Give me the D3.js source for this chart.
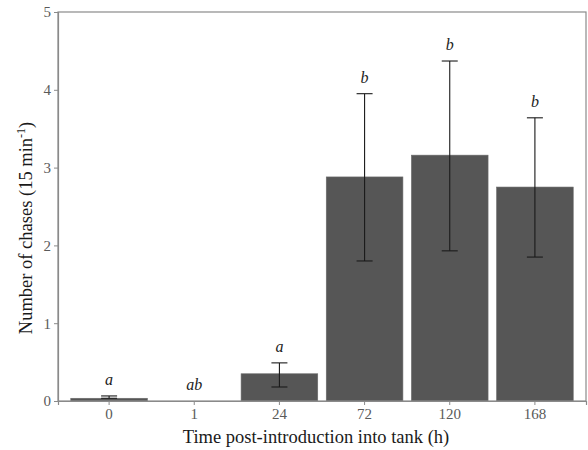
<!DOCTYPE html>
<html>
<head>
<meta charset="utf-8">
<script src="https://cdn.jsdelivr.net/npm/d3@7"></script>
<style>
  body { margin: 0; background: #fff; }
</style>
</head>
<body>
<script>
// data
var times = ["0", "1", "24", "72", "120", "168"];
var chases = [0.035, 0, 0.35, 2.88, 3.16, 2.75];
var errLow = [0.035, 0, 0.18, 1.80, 1.93, 1.85];
var errHigh = [0.065, 0, 0.49, 3.95, 4.37, 3.64];
var letters = ["a", "ab", "a", "b", "b", "b"];
var yTicks = [0, 1, 2, 3, 4, 5];

var W = 588, H = 450;
var pLeft = 58, pRight = 586, pTop = 12, pBottom = 401;
var serif = "'Liberation Serif', 'Times New Roman', Times, serif";

var svg = d3.select("body").append("svg")
    .attr("width", W)
    .attr("height", H)
    .attr("font-family", serif);

var x = d3.scaleBand()
    .domain(times)
    .range([pLeft, pRight])
    .paddingInner(0.1)
    .paddingOuter(0.15);

var y = d3.scaleLinear()
    .domain([0, 5])
    .range([pBottom, pTop]);

var rows = times.map(function(t, i) {
  return {t: t, v: chases[i], lo: errLow[i], hi: errHigh[i], lab: letters[i]};
});

// bars
svg.selectAll("rect.bar")
    .data(rows)
    .enter()
    .append("rect")
    .attr("class", "bar")
    .attr("x", function(d) { return x(d.t); })
    .attr("width", x.bandwidth())
    .attr("y", function(d) { return y(d.v); })
    .attr("height", function(d) { return y(0) - y(d.v); })
    .attr("fill", "#565656")
    .attr("stroke", "#6a6a6a")
    .attr("stroke-width", 0.6);

// error bars
var cap = 8;
var eb = svg.selectAll("g.err")
    .data(rows.filter(function(d) { return d.hi > 0; }))
    .enter()
    .append("g")
    .attr("class", "err")
    .attr("stroke", "#1a1a1a")
    .attr("stroke-width", 1.1);

function cx(d) { return x(d.t) + x.bandwidth() / 2; }

eb.append("line")
    .attr("x1", cx).attr("x2", cx)
    .attr("y1", function(d) { return y(d.lo); })
    .attr("y2", function(d) { return y(d.hi); });
eb.append("line")
    .attr("x1", function(d) { return cx(d) - cap; })
    .attr("x2", function(d) { return cx(d) + cap; })
    .attr("y1", function(d) { return y(d.hi); })
    .attr("y2", function(d) { return y(d.hi); });
eb.append("line")
    .attr("x1", function(d) { return cx(d) - cap; })
    .attr("x2", function(d) { return cx(d) + cap; })
    .attr("y1", function(d) { return y(d.lo); })
    .attr("y2", function(d) { return y(d.lo); });

// significance letters
svg.selectAll("text.lab")
    .data(rows)
    .enter()
    .append("text")
    .attr("class", "lab")
    .attr("x", cx)
    .attr("y", function(d) { return y(d.hi) - 11; })
    .attr("text-anchor", "middle")
    .attr("font-style", "italic")
    .attr("font-size", 16)
    .attr("fill", "#222")
    .text(function(d) { return d.lab; });

// panel border
svg.append("rect")
    .attr("x", pLeft)
    .attr("y", pTop)
    .attr("width", pRight - pLeft)
    .attr("height", pBottom - pTop)
    .attr("fill", "none")
    .attr("stroke", "#8a8a8a")
    .attr("stroke-width", 1.2);

// axes
var xAxis = svg.append("g")
    .attr("transform", "translate(0," + pBottom + ")")
    .call(d3.axisBottom(x).tickSize(4).tickPadding(3));
var yAxis = svg.append("g")
    .attr("transform", "translate(" + pLeft + ",0)")
    .call(d3.axisLeft(y).tickValues(yTicks).tickFormat(d3.format("d"))
      .tickSize(4).tickPadding(3));

[xAxis, yAxis].forEach(function(a) {
  a.attr("font-family", serif).attr("font-size", 15);
  a.select(".domain").attr("stroke", "#8a8a8a").attr("stroke-width", 1.2);
  a.selectAll(".tick line").attr("stroke", "#8a8a8a");
  a.selectAll(".tick text").attr("fill", "#5a5a5a");
});

// axis titles
svg.append("text")
    .attr("x", (pLeft + pRight) / 2 - 6)
    .attr("y", 443)
    .attr("text-anchor", "middle")
    .attr("font-size", 18.5)
    .attr("fill", "#1a1a1a")
    .text("Time post-introduction into tank (h)");

var yt = svg.append("text")
    .attr("transform", "translate(32,228) rotate(-90)")
    .attr("text-anchor", "middle")
    .attr("font-size", 18.5)
    .attr("fill", "#1a1a1a");
yt.append("tspan").text("Number of chases (15 min");
yt.append("tspan").attr("dy", -7).attr("font-size", 12).text("-1");
yt.append("tspan").attr("dy", 7).text(")");
</script>
</body>
</html>
